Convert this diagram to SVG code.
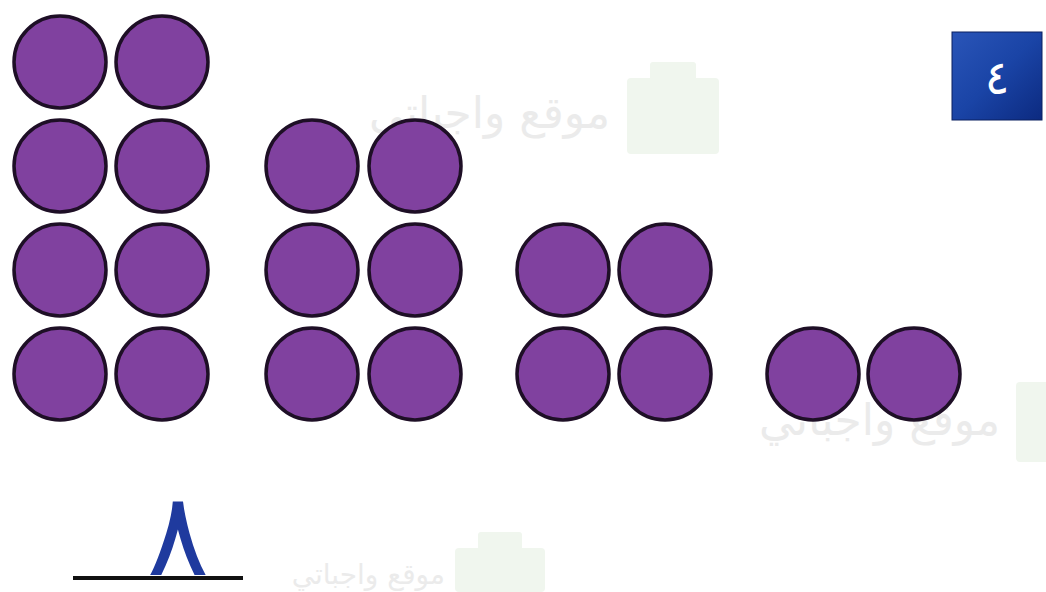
<svg xmlns="http://www.w3.org/2000/svg" width="1046" height="592" viewBox="0 0 1046 592">
<defs>
<style>
.dot{fill:#80419f;stroke:#1e0f26;stroke-width:3.5}
.wm{font-family:"DejaVu Sans",sans-serif;fill:#ebebeb}
.bag{fill:#f0f6ee}
</style>
<linearGradient id="bg" x1="0" y1="0" x2="1" y2="1">
<stop offset="0" stop-color="#2a55b8"/>
<stop offset="0.5" stop-color="#1a44a6"/>
<stop offset="1" stop-color="#0c2a80"/>
</linearGradient>
</defs>
<rect width="1046" height="592" fill="#ffffff"/>
<g id="watermarks">
<rect class="bag" x="627" y="78" width="92" height="76" rx="4"/>
<rect class="bag" x="650" y="62" width="46" height="20" rx="3"/>
<text class="wm" x="610" y="128" font-size="44" text-anchor="end">موقع واجباتي</text>
<rect class="bag" x="1016" y="382" width="40" height="80" rx="4"/>
<text class="wm" x="1000" y="435" font-size="44" text-anchor="end">موقع واجباتي</text>
<rect class="bag" x="455" y="548" width="90" height="44" rx="4"/>
<rect class="bag" x="478" y="532" width="44" height="18" rx="3"/>
<text class="wm" x="445" y="584" font-size="28" text-anchor="end">موقع واجباتي</text>
</g>
<g id="group1">
<circle class="dot" cx="60" cy="62" r="46"/><circle class="dot" cx="162" cy="62" r="46"/>
<circle class="dot" cx="60" cy="166" r="46"/><circle class="dot" cx="162" cy="166" r="46"/>
<circle class="dot" cx="60" cy="270" r="46"/><circle class="dot" cx="162" cy="270" r="46"/>
<circle class="dot" cx="60" cy="374" r="46"/><circle class="dot" cx="162" cy="374" r="46"/>
</g>
<g id="group2">
<circle class="dot" cx="312" cy="166" r="46"/><circle class="dot" cx="415" cy="166" r="46"/>
<circle class="dot" cx="312" cy="270" r="46"/><circle class="dot" cx="415" cy="270" r="46"/>
<circle class="dot" cx="312" cy="374" r="46"/><circle class="dot" cx="415" cy="374" r="46"/>
</g>
<g id="group3">
<circle class="dot" cx="563" cy="270" r="46"/><circle class="dot" cx="665" cy="270" r="46"/>
<circle class="dot" cx="563" cy="374" r="46"/><circle class="dot" cx="665" cy="374" r="46"/>
</g>
<g id="group4">
<circle class="dot" cx="813" cy="374" r="46"/><circle class="dot" cx="914" cy="374" r="46"/>
</g>
<g id="badge">
<rect x="952" y="32" width="90" height="88" fill="url(#bg)" stroke="#0a2060" stroke-width="1"/>
<text x="997" y="94" text-anchor="middle" font-family="DejaVu Sans, sans-serif" font-size="46" fill="#ffffff">٤</text>
</g>
<g id="answer">
<line x1="73" y1="578" x2="243" y2="578" stroke="#111111" stroke-width="4"/>
<text x="178" y="575" text-anchor="middle" font-family="DejaVu Sans, sans-serif" font-size="116" fill="#1f3a9e">٨</text>
</g>
</svg>
